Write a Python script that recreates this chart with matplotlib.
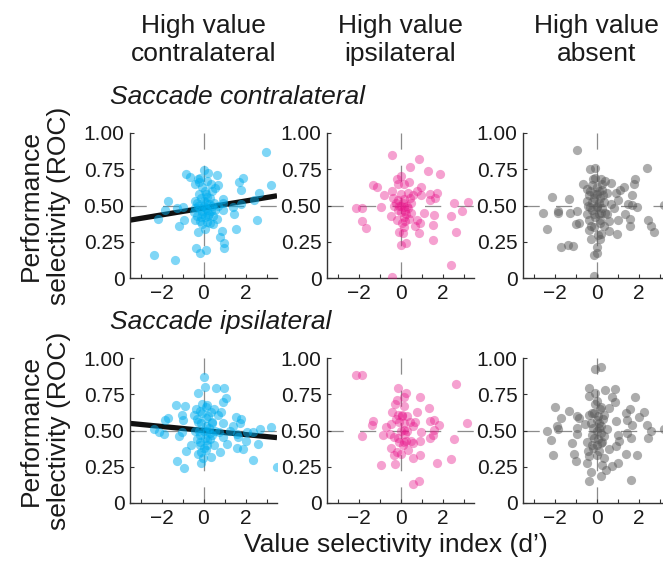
import matplotlib
matplotlib.use("Agg")
import matplotlib.pyplot as plt
import numpy as np

plt.rcParams['font.family'] = ['Liberation Sans', 'DejaVu Sans']
plt.rcParams['lines.scale_dashes'] = False

# --- data (x = value selectivity d', y = performance ROC) ---
# row 1: saccade contralateral
contra_hvc_x = [2.96, 0.0, 0.21, 0.63, -0.83, -0.63, 1.90, -0.28, -0.15, 1.71, -0.39, -0.23, 0.18, 0.37, 0.70,
                3.22, -0.08, 0.57, 1.77, 0.42, 0.10, 2.65, 2.42, 0.94, 0.18, -1.69, 0.91, -0.31, 0.02, 0.26,
                0.50, 1.80, 1.40, 0.67, -0.99, -1.85, -1.28, -0.39, -0.15, 0.10, 0.37, 0.91, -0.47, -0.07, 0.26,
                1.43, -0.31, 0.47, 0.05, -2.15, -0.93, -0.42, -0.15, 0.63, 2.57, 0.18, -1.15, -0.07, 0.47, 0.05,
                0.89, 1.56, -0.24, 0.80, 0.99, 0.96, -0.37, 0.11, -0.18, -2.36, -1.35,
                0.0, -0.10, 0.15, 0.30, -0.20, 0.05, 0.40, -0.05, 0.20, -0.25, 0.10, 0.55, -0.40, 0.30, -0.10]
contra_hvc_y = [0.87, 0.745, 0.725, 0.71, 0.72, 0.70, 0.69, 0.68, 0.69, 0.66, 0.65, 0.66, 0.67, 0.65, 0.64,
                0.64, 0.625, 0.62, 0.61, 0.60, 0.58, 0.585, 0.54, 0.545, 0.56, 0.53, 0.52, 0.515, 0.53, 0.51,
                0.515, 0.51, 0.49, 0.50, 0.49, 0.47, 0.48, 0.48, 0.485, 0.48, 0.465, 0.47, 0.455, 0.44, 0.44,
                0.44, 0.43, 0.425, 0.42, 0.41, 0.40, 0.40, 0.39, 0.41, 0.40, 0.385, 0.36, 0.37, 0.37, 0.34,
                0.325, 0.335, 0.32, 0.28, 0.24, 0.205, 0.21, 0.19, 0.17, 0.16, 0.125,
                0.50, 0.55, 0.47, 0.55, 0.58, 0.60, 0.50, 0.46, 0.43, 0.50, 0.52, 0.47, 0.53, 0.38, 0.42]

contra_hvi_x = [-0.40, 0.90, 0.45, 1.32, 1.90, 0.03, -0.16, -1.29, -1.10, -0.10, 0.16, 0.40, 0.97, 0.79, -0.42,
                1.40, 1.76, -0.77, 0.03, 0.35, 0.60, 0.97, 1.65, 1.42, -0.37, -0.13, 0.19, 0.52, 2.56, 3.23,
                -0.92, -2.13, -1.81, -0.29, -0.05, 0.16, 0.35, 0.03, 0.27, 1.13, 2.95, 2.42, 1.61, -0.45, -0.19,
                0.39, 0.79, 0.95, -1.84, 0.23, 0.68, 1.55, -1.66, 0.19, -0.05, 0.11, 0.90, 2.66, 1.55, 0.27,
                0.0, 2.42, -0.42,
                0.0, 0.10, -0.10, 0.20, 0.30, -0.20, 0.45, 0.15, 0.05, 0.50]
contra_hvi_y = [0.845, 0.82, 0.765, 0.74, 0.715, 0.705, 0.68, 0.64, 0.63, 0.65, 0.645, 0.66, 0.63, 0.60, 0.60,
                0.58, 0.585, 0.57, 0.58, 0.585, 0.57, 0.57, 0.555, 0.54, 0.555, 0.54, 0.545, 0.52, 0.515, 0.525,
                0.49, 0.485, 0.485, 0.50, 0.495, 0.49, 0.48, 0.455, 0.44, 0.445, 0.46, 0.425, 0.435, 0.43, 0.40,
                0.41, 0.40, 0.38, 0.39, 0.39, 0.36, 0.365, 0.345, 0.35, 0.315, 0.31, 0.31, 0.315, 0.26, 0.24,
                0.23, 0.09, 0.01,
                0.50, 0.52, 0.47, 0.46, 0.50, 0.52, 0.55, 0.42, 0.38, 0.45]

contra_hva_x = [-0.91, 2.41, -0.29, -0.08, -0.05, 0.20, 0.41, 0.68, -0.65, 1.82, 1.77, 1.33, 1.14, 0.93, -0.21,
                -0.46, 0.03, 0.28, 0.52, -2.11, -1.32, 1.71, -0.37, -0.13, 0.16, 1.01, -0.46, -0.21, 0.36, 0.68,
                1.50, 1.69, 1.92, 3.20, -0.29, 0.03, 0.28, 0.85, -2.57, -1.84, -1.82, -1.27, -0.94, 1.37, -0.46,
                -0.13, 0.52, 1.61, 1.04, -0.37, 0.16, 0.60, 2.44, -0.81, -0.99, 2.60, 1.58, 0.36, -0.13, -2.36,
                2.72, -0.37, 0.60, 0.98, 0.20, -0.26, 0.16, -1.67, -1.35, -1.11, 0.0, 0.03, -0.13, -0.10,
                0.0, -0.10, 0.10, -0.20, 0.20, 0.10, -0.05, 0.30, -0.30, 0.15, -0.25, 0.05, 0.40, -0.40, 0.25,
                -0.15, 0.0, 0.10]
contra_hva_y = [0.88, 0.76, 0.75, 0.76, 0.69, 0.68, 0.67, 0.655, 0.65, 0.68, 0.65, 0.63, 0.61, 0.585, 0.64,
                0.615, 0.625, 0.61, 0.585, 0.56, 0.545, 0.575, 0.57, 0.58, 0.555, 0.54, 0.53, 0.525, 0.525, 0.51,
                0.51, 0.505, 0.49, 0.505, 0.49, 0.49, 0.48, 0.48, 0.45, 0.46, 0.45, 0.45, 0.465, 0.44, 0.44,
                0.44, 0.44, 0.41, 0.40, 0.40, 0.40, 0.39, 0.40, 0.38, 0.37, 0.36, 0.36, 0.36, 0.35, 0.34,
                0.32, 0.33, 0.325, 0.305, 0.305, 0.27, 0.27, 0.215, 0.225, 0.22, 0.215, 0.17, 0.16, 0.015,
                0.50, 0.55, 0.60, 0.47, 0.45, 0.52, 0.42, 0.57, 0.60, 0.38, 0.36, 0.30, 0.45, 0.50, 0.65,
                0.68, 0.58, 0.44]

# row 2: saccade ipsilateral
ipsi_hvc_x = [0.0, 0.05, 0.60, 0.96, -0.28, 1.07, 0.91, -1.32, -0.86, -0.05, 0.18, 0.50, -0.37, -0.15, 0.34,
              0.83, 0.70, -1.01, -0.47, -1.69, -1.85, -0.96, 0.10, 1.53, 1.80, -0.28, 0.42, 0.91, 1.40, 1.74,
              3.22, 2.67, -2.34, -2.13, -1.87, -1.04, -0.39, 0.18, 0.75, 1.27, 2.05, 2.37, 1.59, -1.15, -0.15,
              0.42, 0.94, 1.64, -0.31, 0.18, 2.02, 1.12, -0.59, 2.59, 0.50, -0.15, 1.58, 1.89, -0.83, 0.10,
              0.80, -0.28, 0.34, -0.02, 2.37, -1.28, -0.11, -0.93, 3.48,
              0.0, 0.10, -0.10, 0.20, -0.20, 0.05, 0.30, -0.05, 0.15, 0.25, -0.30, 0.0, 0.40, -0.15, 0.10,
              0.55, -0.10, 0.30]
ipsi_hvc_y = [0.866, 0.80, 0.79, 0.795, 0.757, 0.727, 0.70, 0.676, 0.67, 0.68, 0.676, 0.648, 0.65, 0.634, 0.625,
              0.625, 0.61, 0.61, 0.606, 0.588, 0.57, 0.57, 0.583, 0.595, 0.58, 0.56, 0.556, 0.549, 0.528, 0.549,
              0.525, 0.51, 0.51, 0.49, 0.475, 0.49, 0.50, 0.50, 0.49, 0.495, 0.49, 0.49, 0.475, 0.46, 0.467,
              0.467, 0.456, 0.456, 0.444, 0.433, 0.426, 0.41, 0.403, 0.405, 0.398, 0.398, 0.38, 0.37, 0.356, 0.363,
              0.352, 0.34, 0.317, 0.31, 0.30, 0.287, 0.275, 0.243, 0.245,
              0.50, 0.53, 0.55, 0.60, 0.50, 0.45, 0.48, 0.62, 0.40, 0.52, 0.58, 0.38, 0.55, 0.42, 0.66,
              0.50, 0.35, 0.44]

ipsi_hvi_x = [-2.13, -1.85, 2.63, -0.10, 0.26, 0.16, 0.94, -0.15, -0.26, 0.16, 1.37, 0.77, -0.40, -0.11, 0.08,
              0.32, 1.39, 1.61, -1.32, -1.35, -0.45, -0.06, 0.45, 0.68, 1.85, 3.19, -0.68, 0.58, 0.16, 1.58,
              0.97, -1.84, -0.84, -0.52, 0.21, 1.55, -0.29, 1.39, 2.53, 0.94, -0.08, 0.16, 0.48, 0.58, -0.45,
              0.35, -0.19, 0.0, -0.32, 0.94, 0.58, 2.39, 1.74, -0.94, -0.24, 0.89, 0.60,
              0.0, 0.15, -0.10, 0.25, 0.05, 0.30, -0.20, 0.10]
ipsi_hvi_y = [0.88, 0.88, 0.82, 0.795, 0.76, 0.73, 0.73, 0.707, 0.684, 0.667, 0.656, 0.626, 0.626, 0.605, 0.605,
              0.598, 0.567, 0.572, 0.567, 0.54, 0.544, 0.558, 0.558, 0.558, 0.535, 0.551, 0.526, 0.528, 0.505, 0.505,
              0.49, 0.465, 0.47, 0.477, 0.474, 0.47, 0.458, 0.447, 0.442, 0.428, 0.423, 0.419, 0.428, 0.412, 0.377,
              0.365, 0.353, 0.335, 0.33, 0.33, 0.312, 0.302, 0.277, 0.263, 0.272, 0.151, 0.128,
              0.50, 0.55, 0.45, 0.43, 0.60, 0.50, 0.58, 0.40]

ipsi_hva_x = [-0.05, 0.23, -0.37, 0.39, 0.89, -0.05, -0.37, 0.76, 1.82, 0.88, 0.03, -2.0, 0.20, 0.59, 1.58,
              -1.30, -0.94, 2.28, -0.21, -0.37, 0.36, 1.41, -1.67, -0.83, 0.91, 2.03, 1.45, 1.67, 2.42, -0.54,
              -1.89, -1.84, -2.37, -0.94, 0.11, 0.52, 2.60, 3.20, 1.45, 1.01, -0.91, -0.21, 0.36, 1.63, -2.15,
              2.44, -1.19, -0.46, 1.09, 0.20, 0.94, -0.16, 0.60, -0.42, -1.07, -2.06, 1.41, 1.93, 0.03, -0.37,
              0.36, -0.98, -0.46, 1.01, 0.76, 0.28, 0.47, -0.26, 0.20, -0.37, 1.64,
              0.0, 0.10, -0.10, 0.05, -0.15, 0.20, 0.0, 0.15, -0.05, 0.25, -0.25, 0.10, 0.30, -0.10, 0.05,
              0.20, -0.20, 0.0]
ipsi_hva_y = [0.926, 0.94, 0.79, 0.776, 0.783, 0.76, 0.737, 0.733, 0.73, 0.696, 0.703, 0.66, 0.661, 0.652, 0.645,
              0.634, 0.603, 0.627, 0.622, 0.61, 0.61, 0.622, 0.588, 0.583, 0.565, 0.592, 0.569, 0.537, 0.541, 0.546,
              0.53, 0.507, 0.50, 0.518, 0.518, 0.507, 0.495, 0.51, 0.48, 0.472, 0.477, 0.472, 0.461, 0.449, 0.435,
              0.445, 0.415, 0.422, 0.426, 0.415, 0.392, 0.38, 0.369, 0.357, 0.341, 0.334, 0.341, 0.334, 0.334, 0.323,
              0.311, 0.288, 0.277, 0.277, 0.253, 0.26, 0.226, 0.212, 0.184, 0.154, 0.157,
              0.50, 0.55, 0.45, 0.60, 0.52, 0.48, 0.40, 0.65, 0.68, 0.42, 0.55, 0.36, 0.58, 0.62, 0.44,
              0.53, 0.40, 0.57]

# regression lines for the contralateral-value panels (intercept, slope)
fit_contra = (0.483, 0.024)
fit_ipsi = (0.500, -0.014)

col_titles = ['High value\ncontralateral', 'High value\nipsilateral', 'High value\nabsent']
row_titles = ['Saccade contralateral', 'Saccade ipsilateral']
colors = ['#00aeef', '#e8168a', '#5a5a5a']
alphas = [0.5, 0.4, 0.5]

panels = [[(contra_hvc_x, contra_hvc_y), (contra_hvi_x, contra_hvi_y), (contra_hva_x, contra_hva_y)],
          [(ipsi_hvc_x, ipsi_hvc_y), (ipsi_hvi_x, ipsi_hvi_y), (ipsi_hva_x, ipsi_hva_y)]]
fits = [fit_contra, fit_ipsi]

W, H = 663., 561.
fig = plt.figure(figsize=(W / 100, H / 100), dpi=100)

lefts = [130, 327, 523]
tops = [133, 358]
aw, ah = 147, 145
big = 19

for r in range(2):
    for c in range(3):
        ax = fig.add_axes([lefts[c] / W, 1 - (tops[r] + ah) / H, aw / W, ah / H])
        ax.set_xlim(-3.5, 3.5)
        ax.set_ylim(0, 1)
        ax.plot([0, 0], [0, 1], color='#8c8c8c', lw=0.9, ls=(0, (11.6, 11.6)), zorder=1)
        ax.plot([-3.5, 3.5], [0.5, 0.5], color='#8c8c8c', lw=0.9, ls=(0, (11.7, 11.7)), zorder=1)
        if c == 0:
            b, m = fits[r]
            xx = np.array([-3.5, 3.5])
            ax.plot(xx, b + m * xx, color='#111111', lw=3.8, solid_capstyle='butt', zorder=2)
        x, y = panels[r][c]
        ax.scatter(x, y, s=44, color=colors[c], alpha=alphas[c], linewidths=0, zorder=3)
        for side in ['top', 'right']:
            ax.spines[side].set_visible(False)
        for side in ['left', 'bottom']:
            ax.spines[side].set_color('#333333')
            ax.spines[side].set_linewidth(1.0)
        ax.set_xticks([-2, 0, 2])
        ax.set_xticklabels(['\u22122', '0', '2'])
        ax.set_xticks([-3, -1, 1, 3], minor=True)
        ax.set_yticks([0, 0.25, 0.5, 0.75, 1.0])
        ax.set_yticklabels(['0', '0.25', '0.50', '0.75', '1.00'])
        ax.tick_params(which='both', direction='in', length=3, width=0.8, color='#333333',
                       labelsize=15, labelcolor='#1a1a1a', pad=4)

for c in range(3):
    fig.text((lefts[c] + aw / 2) / W, 1 - 40 / H, col_titles[c], ha='center', va='center',
             fontsize=big, linespacing=1.25, color='#1a1a1a')

for r in range(2):
    fig.text(110 / W, 1 - (tops[r] - 36) / H, row_titles[r], ha='left', va='center',
             fontsize=big, style='italic', color='#1a1a1a')
    fig.text(45 / W, 1 - (tops[r] + ah / 2) / H, 'Performance\nselectivity (ROC)', ha='center',
             va='center', rotation=90, fontsize=big, linespacing=1.25, color='#1a1a1a')

fig.text(396 / W, 1 - 545 / H, 'Value selectivity index (d\u2019)', ha='center', va='center',
         fontsize=big, color='#1a1a1a')

fig.savefig('out.png', dpi=100)
